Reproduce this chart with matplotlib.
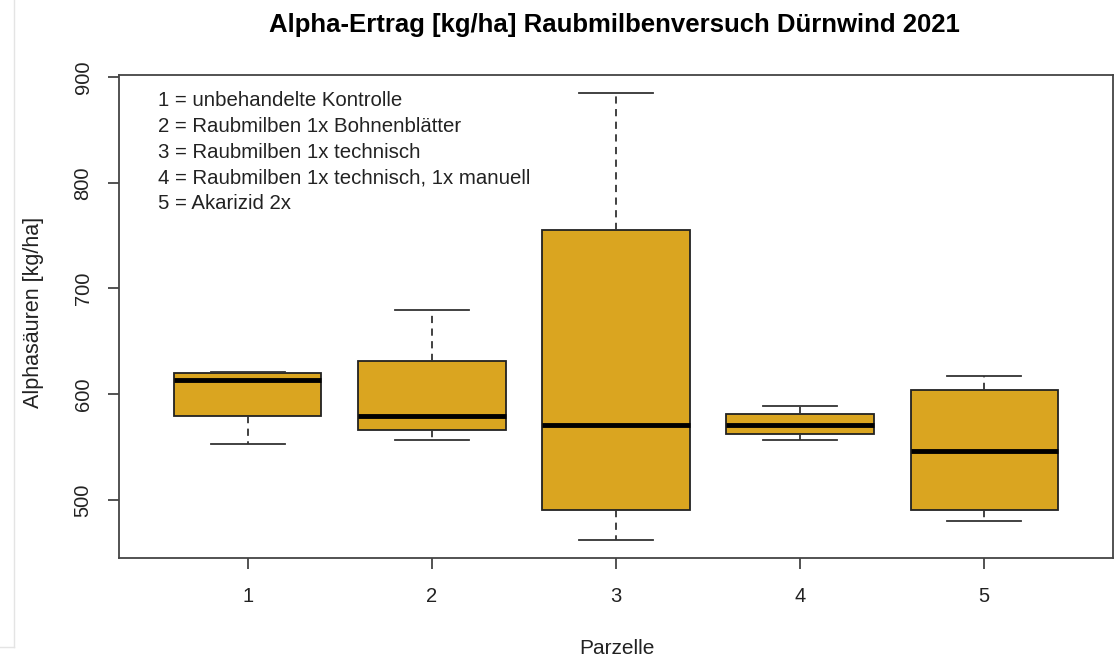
import matplotlib
matplotlib.use("Agg")
import matplotlib.pyplot as plt
from matplotlib.lines import Line2D

plt.rcParams['font.family'] = ['Liberation Sans', 'DejaVu Sans']

# five-number summaries per plot (kg/ha)
parzellen = ["1", "2", "3", "4", "5"]
whisker_lo = [553, 557, 462, 557, 480]
q1 = [579, 566, 490, 562, 490]
median = [613, 579, 571, 571, 546]
q3 = [620, 631, 755, 581, 604]
whisker_hi = [621, 680, 885, 589, 617]

legend_lines = [
    "1 = unbehandelte Kontrolle",
    "2 = Raubmilben 1x Bohnenblätter",
    "3 = Raubmilben 1x technisch",
    "4 = Raubmilben 1x technisch, 1x manuell",
    "5 = Akarizid 2x",
]

stats = []
for i, name in enumerate(parzellen):
    stats.append({
        'label': name,
        'whislo': whisker_lo[i], 'q1': q1[i], 'med': median[i],
        'q3': q3[i], 'whishi': whisker_hi[i], 'fliers': [],
    })

fig = plt.figure(figsize=(11.15, 6.6), dpi=100)
ax = fig.add_axes([119 / 1115, 1 - 558 / 660, (1113 - 119) / 1115, (558 - 75) / 660])

ax.bxp(stats, positions=range(1, 6), widths=0.8, patch_artist=True,
       showfliers=False,
       boxprops=dict(facecolor='goldenrod', edgecolor='#222222', linewidth=1.3),
       medianprops=dict(color='black', linewidth=3.5, solid_capstyle='butt'),
       whiskerprops=dict(color='#333333', linewidth=1.3, linestyle=(0, (4, 3))),
       capprops=dict(color='#333333', linewidth=1.3),
       capwidths=0.4)

ax.set_xlim(0.3, 5.7)
ax.set_ylim(445, 902)
ax.set_yticks([500, 600, 700, 800, 900])
ax.set_xticks(range(1, 6))
ax.set_xticklabels(parzellen)
for s in ax.spines.values():
    s.set_color('#444444')
    s.set_linewidth(1.3)
ax.tick_params(axis='both', length=8, width=1.3, color='#444444',
               labelsize=14.5, labelcolor='#222222')
ax.tick_params(axis='x', pad=13)
ax.tick_params(axis='y', pad=11)
for lab in ax.get_yticklabels():
    lab.set_rotation(90)
    lab.set_va('center')

ax.text(0.039, 0.966, "\n".join(legend_lines), transform=ax.transAxes,
        fontsize=14.7, va='top', ha='left', linespacing=1.45, color='#222222')

fig.text(614 / 1115, 1 - 25 / 660, "Alpha-Ertrag [kg/ha] Raubmilbenversuch Dürnwind 2021",
         ha='center', va='center', fontsize=18.5, fontweight='bold')
fig.text(34 / 1115, 1 - 312 / 660, "Alphasäuren [kg/ha]", rotation=90,
         ha='center', va='center', fontsize=15.5, color='#222222')
fig.text(617 / 1115, 1 - 648 / 660, "Parzelle", ha='center', va='center',
         fontsize=15, color='#222222')

# thin grey border line at the left edge
fig.add_artist(Line2D([14 / 1115, 14 / 1115], [1 - 647 / 660, 1], color='#e4e4e4', linewidth=1))
fig.add_artist(Line2D([0, 14 / 1115], [1 - 647 / 660, 1 - 647 / 660], color='#e4e4e4', linewidth=1))

fig.savefig("out.png", dpi=100)
